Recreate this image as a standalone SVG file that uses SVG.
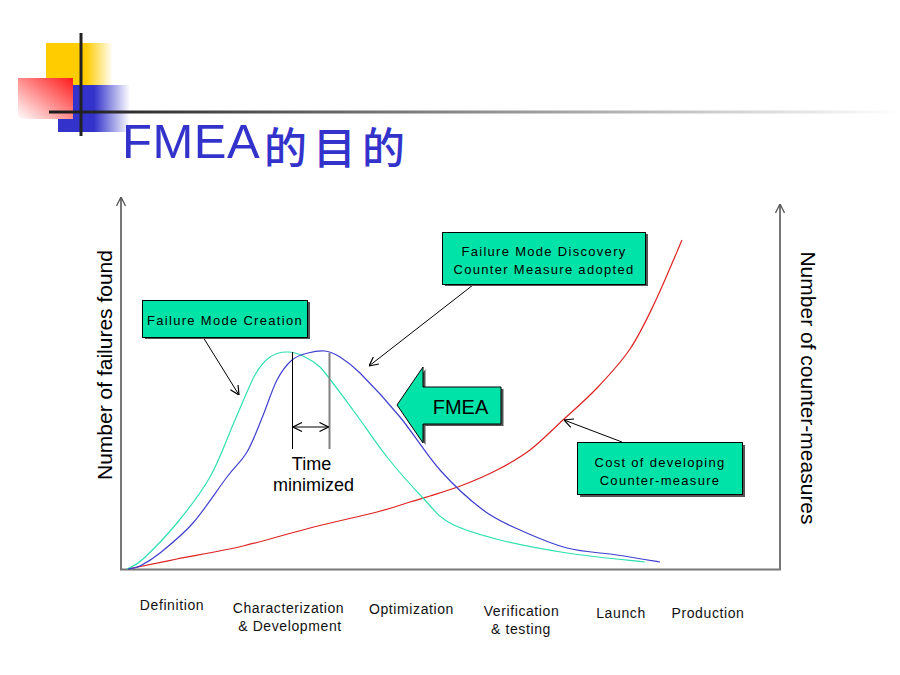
<svg xmlns="http://www.w3.org/2000/svg" width="900" height="675" viewBox="0 0 900 675">
<defs>
<style>
.lbl{font-family:"Liberation Sans",Arial,sans-serif;font-size:14px;letter-spacing:0.6px;fill:#111;text-anchor:middle}
.box{fill:#00E3A8;stroke:#000;stroke-width:1}
.shadow{fill:#555}
.btxt{font-family:"Liberation Sans",Arial,sans-serif;font-size:13px;letter-spacing:1.3px;fill:#000;text-anchor:middle}
.ax{fill:none;stroke:#777;stroke-width:2}
.ptr{fill:none;stroke:#000;stroke-width:1}
.axlbl{font-family:"Liberation Sans",Arial,sans-serif;font-size:21px;fill:#000;text-anchor:middle}
</style>
<marker id="chev" viewBox="0 0 10 10" refX="10" refY="5" markerWidth="10" markerHeight="10" markerUnits="userSpaceOnUse" orient="auto-start-reverse">
<path d="M1,0.5 L10,5 L1,9.5" fill="none" stroke="#000" stroke-width="1.2"/>
</marker>
<marker id="chevg" viewBox="0 0 10 10" refX="10" refY="5" markerWidth="10" markerHeight="10" markerUnits="userSpaceOnUse" orient="auto">
<path d="M1,0.5 L10,5 L1,9.5" fill="none" stroke="#555" stroke-width="1.3"/>
</marker>
<linearGradient id="gy" x1="0" y1="0" x2="1" y2="0">
<stop offset="0" stop-color="#FFCC00"/><stop offset="0.6" stop-color="#FFCC00"/><stop offset="1" stop-color="#FFFFFF"/>
</linearGradient>
<linearGradient id="gb" x1="0" y1="0" x2="1" y2="0">
<stop offset="0" stop-color="#3333CC"/><stop offset="0.5" stop-color="#3333CC"/><stop offset="1" stop-color="#FFFFFF"/>
</linearGradient>
<linearGradient id="gr" x1="1" y1="0" x2="0" y2="1">
<stop offset="0" stop-color="#FF1A1A"/><stop offset="1" stop-color="#FFFFFF"/>
</linearGradient>
<linearGradient id="gl" x1="0" y1="0" x2="1" y2="0">
<stop offset="0" stop-color="#1a1a1a"/><stop offset="1" stop-color="#ffffff"/>
</linearGradient>
</defs>
<rect width="900" height="675" fill="#fff"/>

<g id="decor">
<rect x="46" y="43" width="67" height="42" fill="url(#gy)"/>
<rect x="58" y="85" width="72" height="47" fill="url(#gb)"/>
<rect x="18" y="78" width="55" height="41" fill="url(#gr)"/>
<rect x="49" y="110.5" width="851" height="3" fill="url(#gl)"/>
<rect x="79.5" y="33" width="3" height="103" fill="#222"/>
</g>

<g id="title">
<text x="122" y="158" font-family="Liberation Sans, Arial, sans-serif" font-size="49" letter-spacing="0.5" fill="#3333CC">FMEA</text>
<text x="264" y="164" font-family="Noto Sans CJK SC, sans-serif" font-size="43" font-weight="500" letter-spacing="6" fill="#3333CC">的目的</text>
</g>

<g id="axes">
<line class="ax" x1="121" y1="570" x2="121" y2="197" marker-end="url(#chevg)"/>
<line class="ax" x1="780" y1="570" x2="780" y2="204" marker-end="url(#chevg)"/>
<line class="ax" x1="120" y1="569.5" x2="781" y2="569.5"/>
<text class="axlbl" transform="translate(112,365) rotate(-90)">Number of failures found</text>
<text class="axlbl" transform="translate(801,388) rotate(90)">Number of counter-measures</text>
</g>

<g id="curves" fill="none" stroke-width="1.2">
<path id="red-curve" stroke="#DD2222" d="M128,569 C136.2,567.3 157.8,562.8 177,559 C196.2,555.2 220.8,551.2 243,546 C265.2,540.8 287.7,533.7 310,528 C332.3,522.3 360.3,516.3 377,512 C393.7,507.7 401.2,504.7 410,502 C418.8,499.3 421.2,498.8 430,496 C438.8,493.2 451.8,489.3 463,485 C474.2,480.7 485.8,475.8 497,470 C508.2,464.2 519,458.3 530,450 C541,441.7 551.8,430.3 563,420 C574.2,409.7 585.8,399.8 597,388 C608.2,376.2 620.3,363.3 630,349 C639.7,334.7 646.3,320.2 655,302 C663.7,283.8 677.5,250.3 682,240"/>
<path id="green-curve" stroke="#2EE0B0" d="M127,569 C129.7,567.3 134.7,566.7 143,559 C151.3,551.3 165.8,536.7 177,523 C188.2,509.3 200.3,494.2 210,477 C219.7,459.8 227.5,437 235,420 C242.5,403 249.2,385.5 255,375 C260.8,364.5 264.5,360.8 270,357 C275.5,353.2 282.5,351.8 288,352 C293.5,351.8 297.7,353.5 303,356 C308.3,358.5 312,360 320,367 C328.3,376 341.8,395 353,410 C364.2,425 375.3,442.3 387,457 C398.7,471.7 412.5,487 423,498 C433.5,509 437.2,516 450,523 C462.8,530 480.5,535 500,540 C519.5,545 542.8,549.3 567,553 C591.2,556.7 632,560.5 645,562"/>
<path id="blue-curve" stroke="#4040D0" d="M128,569 C130,568.5 134.7,568.7 140,566 C145.3,563.3 151.2,560.2 160,553 C168.8,545.8 181.8,535.7 193,523 C204.2,510.3 218,488.8 227,477 C236,465.2 241.2,461.8 247,452 C252.8,442.2 257,430 262,418 C267,406 272,389.7 277,380 C282,370.3 286.8,364.5 292,360 C297.2,355.5 302.5,354.5 308,353 C313.5,351.5 319.7,350.3 325,351 C330.3,351.7 334.2,353.3 340,357 C345.8,360.7 350,363 360,373 C370,383 386.7,400.8 400,417 C413.3,433.2 426.2,454.5 440,470 C453.8,485.5 469.7,500 483,510 C496.3,520 506,523.7 520,530 C534,536.3 550.8,543.8 567,548 C583.2,552.2 601.5,552.7 617,555 C632.5,557.3 652.8,560.8 660,562"/>
</g>

<g id="time-minimized">
<line x1="292.5" y1="352" x2="292.5" y2="449" stroke="#000" stroke-width="1"/>
<line x1="329.5" y1="353" x2="329.5" y2="449" stroke="#808080" stroke-width="2"/>
<line x1="293" y1="427" x2="328.5" y2="427" class="ptr" marker-start="url(#chev)" marker-end="url(#chev)"/>
<text x="311.5" y="469.5" font-family="Liberation Sans, Arial, sans-serif" font-size="18" text-anchor="middle" fill="#000">Time</text>
<text x="313.5" y="490.5" font-family="Liberation Sans, Arial, sans-serif" font-size="18" text-anchor="middle" fill="#000">minimized</text>
</g>

<g id="connectors">
<line class="ptr" x1="203" y1="337" x2="239" y2="395" marker-end="url(#chev)"/>
<line class="ptr" x1="473" y1="285" x2="369" y2="366" marker-end="url(#chev)"/>
<line class="ptr" x1="622" y1="442" x2="564" y2="420" marker-end="url(#chev)"/>
</g>

<g id="node-creation">
<rect class="shadow" x="145" y="302" width="165" height="37"/>
<rect class="box" x="142.5" y="300.5" width="165" height="37"/>
<text class="btxt" x="225" y="325">Failure Mode Creation</text>
</g>

<g id="node-discovery">
<rect class="shadow" x="445" y="234" width="203" height="52"/>
<rect class="box" x="442.5" y="232.5" width="203" height="52"/>
<text class="btxt" x="544" y="256">Failure Mode Discovery</text>
<text class="btxt" x="544" y="274">Counter Measure adopted</text>
</g>

<g id="node-fmea">
<polygon class="shadow" points="399.5,407 425.5,369 425.5,389 503.5,389 503.5,426 425.5,426 425.5,445"/>
<polygon class="box" points="397,405 423,367 423,387 501,387 501,424 423,424 423,443"/>
<text x="460.5" y="414" font-family="Liberation Sans, Arial, sans-serif" font-size="20" text-anchor="middle" fill="#000">FMEA</text>
</g>

<g id="node-cost">
<rect class="shadow" x="580" y="445" width="165" height="52"/>
<rect class="box" x="577.5" y="442.5" width="165" height="52"/>
<text class="btxt" x="660" y="467">Cost of developing</text>
<text class="btxt" x="660" y="484.5">Counter-measure</text>
</g>

<g id="phase-labels">
<text class="lbl" x="172" y="610">Definition</text>
<text class="lbl" x="288.5" y="613">Characterization</text>
<text class="lbl" x="290" y="630.5">&amp; Development</text>
<text class="lbl" x="411.5" y="614">Optimization</text>
<text class="lbl" x="521.5" y="616">Verification</text>
<text class="lbl" x="521" y="634">&amp; testing</text>
<text class="lbl" x="621" y="618">Launch</text>
<text class="lbl" x="708" y="618">Production</text>
</g>
</svg>
